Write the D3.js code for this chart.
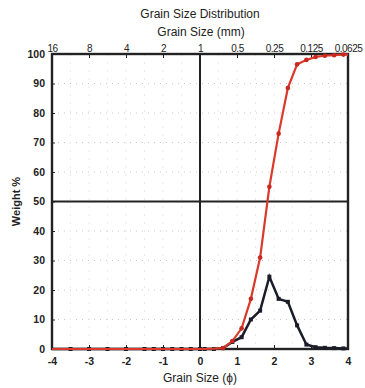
<!DOCTYPE html>
<html>
<head>
<meta charset="utf-8">
<script src="https://cdn.jsdelivr.net/npm/d3@7.9.0/dist/d3.min.js"></script>
<style>
  body { margin: 0; background: #fff; }
  text { font-family: "Liberation Sans", Arial, sans-serif; fill: #222; }
</style>
</head>
<body>
<script>
// phi positions of the sieve points
const phi = [-3.5, -3, -2.5, -2, -1.5, -1.25, -1, -0.75, -0.5, -0.25, 0, 0.125, 0.375,
  0.625, 0.875, 1.125, 1.375, 1.625, 1.875, 2.125, 2.375, 2.625, 2.875, 3.125, 3.375, 3.625, 3.875];
// weight % retained per interval (black)
const freq = [0, 0, 0, 0, 0, 0, 0, 0, 0, 0, 0, 0, 0,
  0.3, 2.4, 4, 10, 13, 24.5, 17, 16, 8, 1.5, 0.6, 0.4, 0.3, 0.2];
// cumulative weight % (red)
const cumul = [0, 0, 0, 0, 0, 0, 0, 0, 0, 0, 0, 0, 0.1,
  0.3, 2.7, 7, 17, 31, 55, 73, 88.5, 96.5, 98, 99, 99.4, 99.6, 99.8];

const phiTicks = [-4, -3, -2, -1, 0, 1, 2, 3, 4];
const mmLabels = ["16", "8", "4", "2", "1", "0.5", "0.25", "0.125", "0.0625"];
const weightTicks = [0, 10, 20, 30, 40, 50, 60, 70, 80, 90, 100];

const width = 365, height = 388;
const margin = { top: 54, right: 17, bottom: 39, left: 52 };

const svg = d3.select("body").append("svg").attr("width", width).attr("height", height);

const x = d3.scaleLinear().domain([-4, 4]).range([margin.left, width - margin.right]);
const y = d3.scaleLinear().domain([0, 100]).range([height - margin.bottom, margin.top]);

// faint dotted grid
svg.append("g").selectAll("line").data(weightTicks.slice(1, -1)).enter().append("line")
  .attr("x1", x(-4)).attr("x2", x(4))
  .attr("y1", d => y(d)).attr("y2", d => y(d))
  .attr("stroke", "#c8c8c8").attr("stroke-width", 1).attr("stroke-dasharray", "1 5");
svg.append("g").selectAll("line").data(d3.range(-3.5, 4, 0.5)).enter().append("line")
  .attr("x1", d => x(d)).attr("x2", d => x(d))
  .attr("y1", y(100)).attr("y2", y(0))
  .attr("stroke", "#ececec").attr("stroke-width", 1).attr("stroke-dasharray", "2 6");

// heavy reference lines at phi = 0 and 50 %
svg.append("line").attr("x1", x(0)).attr("x2", x(0)).attr("y1", y(100)).attr("y2", y(0))
  .attr("stroke", "#222").attr("stroke-width", 2);
svg.append("line").attr("x1", x(-4)).attr("x2", x(4)).attr("y1", y(50)).attr("y2", y(50))
  .attr("stroke", "#222").attr("stroke-width", 2);

// axes
const axisStyle = g => {
  g.select(".domain").remove();
  g.selectAll("line").attr("stroke", "#222");
  g.selectAll("text").style("font-size", "10.5px").style("font-weight", "bold").attr("fill", "#2a2a2a");
};

svg.append("g").attr("transform", `translate(0,${y(0)})`)
  .call(d3.axisBottom(x).tickValues(phiTicks).tickSize(-4).tickPadding(9)
    .tickFormat(d => String(d)))
  .call(axisStyle);

svg.append("g").attr("transform", `translate(0,${y(100)})`)
  .call(d3.axisTop(x).tickValues(phiTicks).tickSize(-4).tickPadding(2)
    .tickFormat((d, i) => mmLabels[i]))
  .call(axisStyle)
  .call(g => g.selectAll("text").style("font-size", "10px").style("font-weight", "normal")
    .style("letter-spacing", "-0.5px").attr("fill", "#111"));

svg.append("g").attr("transform", `translate(${x(-4)},0)`)
  .call(d3.axisLeft(y).tickValues(weightTicks).tickSize(-3).tickPadding(7))
  .call(axisStyle);

// frame
svg.append("rect").attr("x", x(-4)).attr("y", y(100))
  .attr("width", x(4) - x(-4)).attr("height", y(0) - y(100))
  .attr("fill", "none").attr("stroke", "#222").attr("stroke-width", 2.4);

// data lines
const pts = phi.map((p, i) => ({ p, f: freq[i], c: cumul[i] }));

const freqLine = d3.line().x(d => x(d.p)).y(d => y(d.f));
const cumLine = d3.line().x(d => x(d.p)).y(d => y(d.c));

svg.append("path").datum([{ p: -4, f: 0 }, ...pts, { p: 4, f: 0.2 }]).attr("d", freqLine)
  .attr("fill", "none").attr("stroke", "#1c1c28").attr("stroke-width", 2.5);
svg.selectAll(".fdot").data(pts).enter().append("rect").attr("class", "fdot")
  .attr("x", d => x(d.p) - 2).attr("y", d => y(d.f) - 2)
  .attr("width", 4).attr("height", 4).attr("fill", "#1c1c28");

svg.append("path").datum([{ p: -4, c: 0 }, ...pts, { p: 4, c: 99.8 }]).attr("d", cumLine)
  .attr("fill", "none").attr("stroke", "#d93a2b").attr("stroke-width", 2.2);
svg.selectAll(".cdot").data(pts.filter(d => d.p > 0.5)).enter().append("circle").attr("class", "cdot")
  .attr("cx", d => x(d.p)).attr("cy", d => y(d.c)).attr("r", 2.3).attr("fill", "#c8281e");

// titles
svg.append("text").attr("x", 200).attr("y", 18).attr("text-anchor", "middle")
  .style("font-size", "12px").text("Grain Size Distribution");
svg.append("text").attr("x", 201).attr("y", 36).attr("text-anchor", "middle")
  .style("font-size", "12px").text("Grain Size (mm)");
svg.append("text").attr("x", 200).attr("y", 382).attr("text-anchor", "middle")
  .style("font-size", "12px").text("Grain Size (\u03d5)");
svg.append("text").attr("transform", `translate(20,${y(50)}) rotate(-90)`)
  .attr("text-anchor", "middle").style("font-size", "11px").style("font-weight", "bold")
  .text("Weight %");
</script>
</body>
</html>
